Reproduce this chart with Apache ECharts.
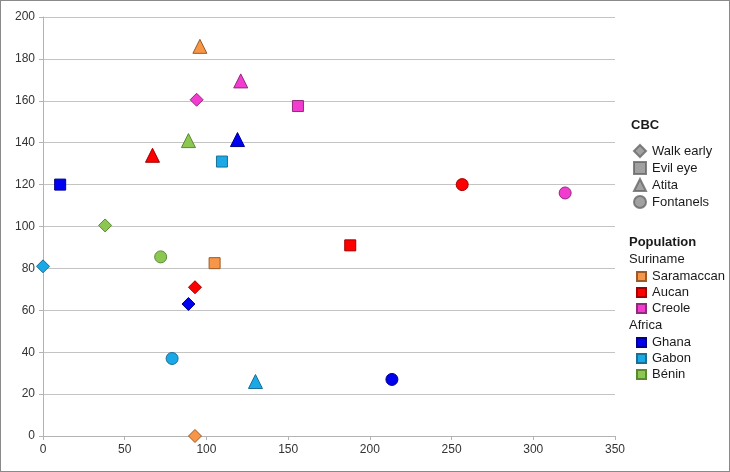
<!DOCTYPE html>
<html>
<head>
<meta charset="utf-8">
<script src="https://cdn.jsdelivr.net/npm/echarts@6/dist/echarts.min.js"></script>
<style>
  html, body { margin: 0; padding: 0; background: #fff; }
  #chart { width: 730px; height: 472px; box-sizing: border-box; border: 1px solid #8a8a8a; }
</style>
</head>
<body>
<div id="chart"></div>
<script>
// CBC items and their marker shapes
var cbcNames = ['Walk early', 'Evil eye', 'Atita', 'Fontanels'];
var cbcSymbols = ['diamond', 'rect', 'triangle', 'circle'];

// one [x, y] per CBC item, in cbcNames order (null = not shown)
var saramaccan = [[93, 0], [105, 82.5], [96, 186], null];
var aucan      = [[93, 71], [188, 91], [67, 134], [256.5, 120]];
var creole     = [[94, 160.5], [156, 157.5], [121, 169.5], [319.5, 116]];
var ghana      = [[89, 63], [10.5, 120], [119, 141.5], [213.5, 27]];
var gabon      = [[0, 81], [109.5, 131], [130, 26], [79, 37]];
var benin      = [[38, 100.5], null, [89, 141], [72, 85.5]];

var populations = [
  { name: 'Saramaccan', data: saramaccan, color: '#F79646', border: '#9a5a2a' },
  { name: 'Aucan',      data: aucan,      color: '#FF0000', border: '#a00000' },
  { name: 'Creole',     data: creole,     color: '#F23CCF', border: '#8f2a7c' },
  { name: 'Ghana',      data: ghana,      color: '#0000F0', border: '#00008a' },
  { name: 'Gabon',      data: gabon,      color: '#1AA8E6', border: '#1a6f94' },
  { name: 'Bénin',      data: benin,      color: '#8CC751', border: '#5a8a30' }
];

var xTicks = { min: 0, max: 350, interval: 50 };
var yTicks = { min: 0, max: 200, interval: 20 };

var font = 'Liberation Sans, Arial, sans-serif';
var symbolSizes = { diamond: 13, rect: 11, triangle: 14, circle: 12 };

var series = [];
populations.forEach(function (p) {
  var items = [];
  p.data.forEach(function (pt, i) {
    if (!pt) return;
    var sym = cbcSymbols[i];
    items.push({ value: pt, symbol: sym, symbolSize: symbolSizes[sym] });
  });
  series.push({
    name: p.name,
    type: 'scatter',
    data: items,
    itemStyle: { color: p.color, borderColor: p.border, borderWidth: 1, opacity: 1 },
    z: 3
  });
});
// legend-only series for the CBC shapes
cbcNames.forEach(function (n, i) {
  series.push({
    name: n,
    type: 'scatter',
    symbol: cbcSymbols[i],
    data: [],
    itemStyle: { color: '#8a8a8a', borderColor: '#666', borderWidth: 1 }
  });
});

function legendBox(names, top, icon) {
  return {
    orient: 'vertical',
    left: icon ? 635 : 632,
    top: top,
    selectedMode: false,
    itemWidth: icon ? 9 : 12,
    itemHeight: icon ? 9 : 12,
    itemGap: 3,
    padding: 0,
    data: names.map(function (n) { return icon ? { name: n, icon: icon } : { name: n }; }),
    textStyle: { fontFamily: font, fontSize: 13, color: '#1a1a1a', padding: [0, 0, 0, 1] }
  };
}

var chart = echarts.init(document.getElementById('chart'));
chart.setOption({
  animation: false,
  backgroundColor: '#fff',
  grid: { left: 42, right: 114, top: 16, bottom: 35 },
  xAxis: {
    type: 'value',
    min: xTicks.min, max: xTicks.max, interval: xTicks.interval,
    splitLine: { show: false },
    axisLine: { lineStyle: { color: '#b3b3b3' } },
    axisTick: { show: true, length: 4, lineStyle: { color: '#b3b3b3' } },
    axisLabel: { fontFamily: font, fontSize: 12, color: '#333', margin: 8 }
  },
  yAxis: {
    type: 'value',
    min: yTicks.min, max: yTicks.max, interval: yTicks.interval,
    splitLine: { show: true, lineStyle: { color: '#c4c4c4' } },
    axisLine: { show: true, lineStyle: { color: '#b3b3b3' } },
    axisTick: { show: true, length: 4, lineStyle: { color: '#b3b3b3' } },
    axisLabel: { fontFamily: font, fontSize: 12, color: '#333', margin: 8 }
  },
  title: [
    { text: 'CBC', left: 630, top: 118, padding: 0,
      textStyle: { fontFamily: font, fontSize: 13, fontWeight: 'bold', color: '#1a1a1a' } },
    { text: 'Population', left: 628, top: 235, padding: 0,
      textStyle: { fontFamily: font, fontSize: 13, fontWeight: 'bold', color: '#1a1a1a' } },
    { text: 'Suriname', left: 628, top: 252, padding: 0,
      textStyle: { fontFamily: font, fontSize: 13, fontWeight: 'normal', color: '#1a1a1a' } },
    { text: 'Africa', left: 628, top: 318, padding: 0,
      textStyle: { fontFamily: font, fontSize: 13, fontWeight: 'normal', color: '#1a1a1a' } }
  ],
  legend: [
    legendBox(cbcNames, 143, null),
    legendBox(['Saramaccan', 'Aucan', 'Creole'], 269, 'rect'),
    legendBox(['Ghana', 'Gabon', 'Bénin'], 335, 'rect')
  ],
  series: series
});
</script>
</body>
</html>
